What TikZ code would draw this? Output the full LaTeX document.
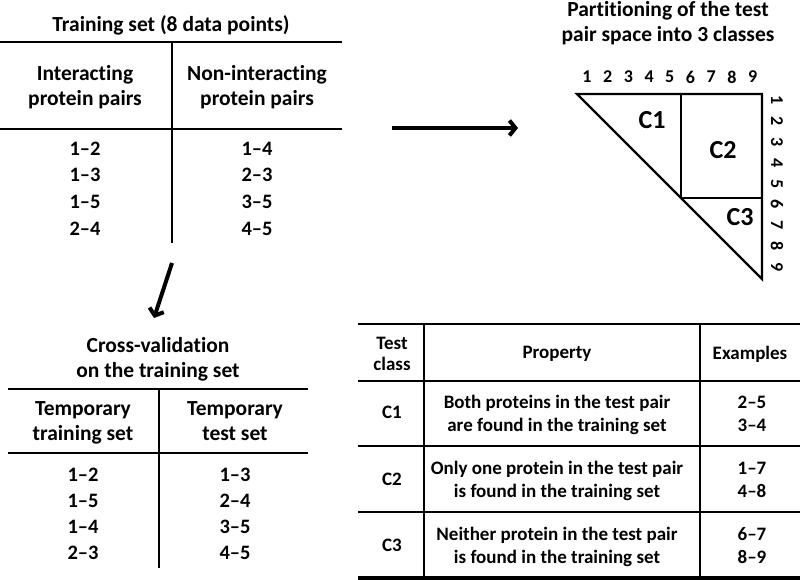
\documentclass[tikz,border=0pt]{standalone}
\usepackage{fontspec}
\setmainfont{Carlito}[Ligatures={TeX,NoCommon}]
\usetikzlibrary{arrows.meta}
\begin{document}
\begin{tikzpicture}[x=1pt,y=-1pt,
  every node/.style={inner sep=0pt, align=center},
  txt/.style={font=\bfseries\fontsize{21.5}{25}\selectfont},
  data/.style={font=\bfseries\fontsize{20.5}{26.4}\selectfont, anchor=base},
  ttxt/.style={font=\bfseries\fontsize{19}{23}\selectfont},
  big/.style={font=\bfseries\fontsize{26}{28}\selectfont},
  num/.style={font=\bfseries\fontsize{18}{20}\selectfont},
  rule/.style={line width=2.7pt},
  tri/.style={line width=2.3pt, line join=miter},
  bigarrow/.style={line width=4pt, -{Straight Barb[length=6pt,width=15pt]}}
]
\useasboundingbox (0,0) rectangle (800,580);

% ---------- Training set table ----------
\node[txt] (t1title) at (171,25) {Training set (8 data points)};
\draw[rule] (0,42) -- (342,42);
\draw[rule] (0,129) -- (342,129);
\draw[rule] (172,42) -- (172,243);
\node[txt] (t1ha) at (85,87) {Interacting\\protein pairs};
\node[txt] (t1hb) at (257,87) {Non-interacting\\protein pairs};
\foreach \t [count=\k] in {1–2,1–3,1–5,2–4}
  \node[data] (t1a\k) at (85,{155.2+26.6*(\k-1)}) {\t};
\foreach \t [count=\k] in {1–4,2–3,3–5,4–5}
  \node[data] (t1b\k) at (257,{155.2+26.6*(\k-1)}) {\t};

% ---------- arrows ----------
\coordinate (a1s) at (392,128);
\coordinate (a1e) at (518,128);
\draw[bigarrow] (a1s) -- (a1e);
\coordinate (a2s) at (172,263);
\coordinate (a2e) at (154,318);
\draw[bigarrow] (a2s) -- (a2e);

% ---------- Cross-validation table ----------
\node[txt] (t2title) at (158,359) {Cross-validation\\on the training set};
\draw[rule] (8,389) -- (308,389);
\draw[rule] (8,453) -- (308,453);
\draw[rule] (159,389) -- (159,568);
\node[txt] (t2ha) at (83,423) {Temporary\\training set};
\node[txt] (t2hb) at (235,423) {Temporary\\test set\vphantom{g}};
\foreach \t [count=\k] in {1–2,1–5,1–4,2–3}
  \node[data] (t2a\k) at (83,{481.2+26.2*(\k-1)}) {\t};
\foreach \t [count=\k] in {1–3,2–4,3–5,4–5}
  \node[data] (t2b\k) at (235,{481.2+26.2*(\k-1)}) {\t};

% ---------- Partition triangle ----------
\node[txt] (ptitle) at (668,23) {Partitioning of the test\\pair space into 3 classes};
\foreach \i in {1,...,9}{
  \node[num] (top\i) at ({587+20.7*(\i-1)},77) {\i};
  \node[num, rotate=-90] (side\i) at (777,{100+20.9*(\i-1)}) {\i};
}
\draw[tri] (577,94) -- (762,94) -- (762,279) -- cycle;
\draw[tri] (681,94) -- (681,198) -- (762,198);
\node[big] (c1) at (652,120) {C1};
\node[big] (c2) at (723,150) {C2};
\node[big] (c3) at (740,217) {C3};

% ---------- Test class table ----------
\draw[rule] (358,324) -- (800,324);
\draw[rule] (358,381) -- (800,381);
\draw[rule] (358,446) -- (800,446);
\draw[rule] (358,512) -- (800,512);
\draw[line width=3.3pt] (358,578) -- (800,578);
\draw[rule] (424,324) -- (424,578);
\draw[rule] (700,324) -- (700,578);
\node[ttxt, font=\bfseries\fontsize{19}{21}\selectfont] (hclass) at (392,354) {Test\\class};
\node[ttxt] (hprop) at (557,354) {Property};
\node[ttxt] (hex) at (750,354) {Examples};
\node[ttxt] (r1c) at (392,412) {C1};
\node[ttxt] (r1p) at (557,415) {Both proteins in the test pair\\are found in the training set};
\node[ttxt] (r1e) at (752,415) {2–5\\3–4\vphantom{g}};
\node[ttxt] (r2c) at (392,479) {C2};
\node[ttxt] (r2p) at (557,481) {Only one protein in the test pair\\is found in the training set};
\node[ttxt] (r2e) at (752,481) {1–7\\4–8\vphantom{g}};
\node[ttxt] (r3c) at (392,545) {C3};
\node[ttxt] (r3p) at (557,547) {Neither protein in the test pair\\is found in the training set};
\node[ttxt] (r3e) at (752,547) {6–7\\8–9\vphantom{g}};
\end{tikzpicture}
\end{document}
